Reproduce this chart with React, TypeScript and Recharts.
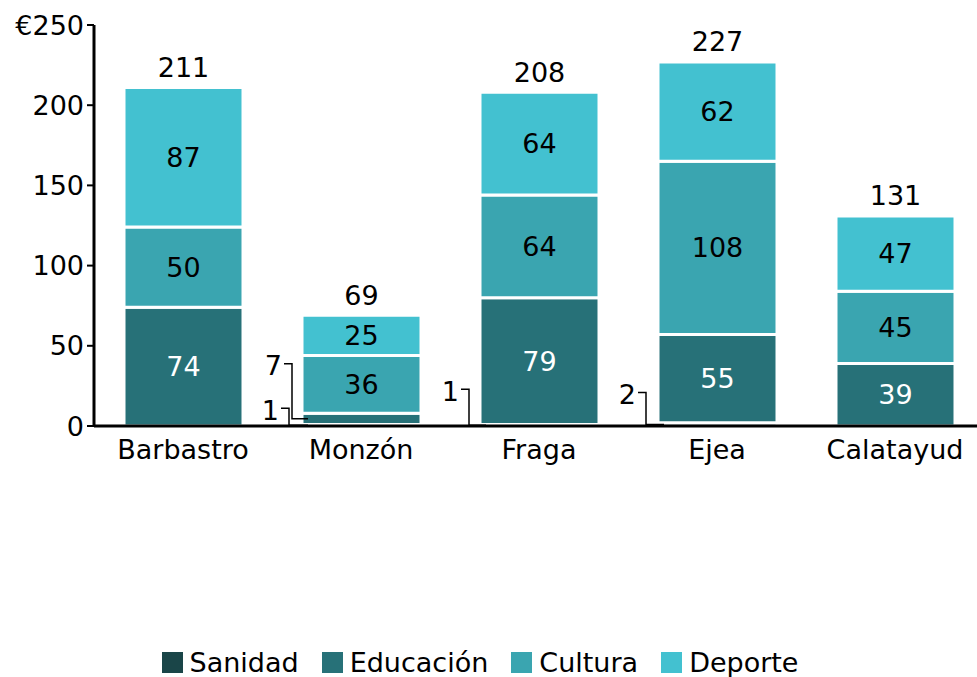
import React from "react";
import { BarChart, Bar, XAxis, YAxis, Legend, LabelList } from "recharts";

const categories = ["Barbastro", "Monzón", "Fraga", "Ejea", "Calatayud"];
const sanidad = [0, 1, 1, 2, 0];
const educacion = [74, 7, 79, 55, 39];
const cultura = [50, 36, 64, 108, 45];
const deporte = [87, 25, 64, 62, 47];
const yTicks = [0, 50, 100, 150, 200, 250];

const seriesNames = ["Sanidad", "Educación", "Cultura", "Deporte"];
const seriesKeys = ["sanidad", "educacion", "cultura", "deporte"];
const seriesColors = ["#1a4548", "#277178", "#3aa5b0", "#43c1d0"];
const labelColors = ["#ffffff", "#ffffff", "#000000", "#000000"];

// label nudges for small segments drawn outside with leader lines (style only)
const leaderNudges: Record<string, { lift: number; elbow: number }> = {
  "educacion-Monzón": { lift: 55, elbow: 10 },
  "sanidad-Monzón": { lift: 17, elbow: 13 },
  "sanidad-Fraga": { lift: 36, elbow: 11 },
  "sanidad-Ejea": { lift: 32, elbow: 12 },
};

const data = categories.map((c, i) => ({
  name: c,
  sanidad: sanidad[i],
  educacion: educacion[i],
  cultura: cultura[i],
  deporte: deporte[i],
  total: sanidad[i] + educacion[i] + cultura[i] + deporte[i],
}));

const FONT = "DejaVu Sans";
const FS = 27;

const makeSegmentLabel = (si: number) => (props: any) => {
  const { x, y, width, height, value } = props;
  if (value == null) return null;
  const [cat, valStr] = String(value).split("|");
  const v = Number(valStr);
  if (!v) return null;
  const key = `${seriesKeys[si]}-${cat}`;
  const nudge = leaderNudges[key];
  if (nudge) {
    const midY = y + height / 2;
    const elbowX = x - nudge.elbow;
    const ly = midY - nudge.lift;
    return (
      <g>
        <polyline
          points={`${elbowX - 8},${ly} ${elbowX},${ly} ${elbowX},${midY} ${x + 6},${midY}`}
          fill="none"
          stroke="#000"
          strokeWidth={1.5}
        />
        <text
          x={elbowX - 10}
          y={ly + 4}
          textAnchor="end"
          dominantBaseline="middle"
          fontFamily={FONT}
          fontSize={FS}
          fill="#000"
        >
          {v}
        </text>
      </g>
    );
  }
  return (
    <text
      x={x + width / 2}
      y={y + height / 2}
      textAnchor="middle"
      dominantBaseline="central"
      fontFamily={FONT}
      fontSize={FS}
      fill={labelColors[si]}
    >
      {v}
    </text>
  );
};

const TotalLabel = (props: any) => {
  const { x, y, width, value } = props;
  return (
    <text
      x={x + width / 2}
      y={y - 20}
      textAnchor="middle"
      dominantBaseline="central"
      fontFamily={FONT}
      fontSize={FS}
      fill="#000"
    >
      {value}
    </text>
  );
};

const LegendContent = () => (
  <div
    style={{
      display: "flex",
      justifyContent: "center",
      alignItems: "center",
      fontFamily: FONT,
      fontSize: FS,
      lineHeight: "27px",
      height: 27,
      color: "#000",
      width: 960,
    }}
  >
    {seriesNames.map((n, i) => (
      <div key={n} style={{ display: "flex", alignItems: "center", marginRight: i < 3 ? 23 : 0 }}>
        <div style={{ width: 21, height: 21, background: seriesColors[i], marginRight: 7 }} />
        <span style={{ whiteSpace: "nowrap" }}>{n}</span>
      </div>
    ))}
  </div>
);

export default function App() {
  return (
    <div
      style={{
        position: "absolute",
        left: 0,
        top: 0,
        width: 977,
        height: 677,
        overflow: "hidden",
        background: "#fff",
      }}
    >
      <BarChart
        width={990}
        height={677}
        data={data}
        margin={{ top: 25, right: 6, left: 0, bottom: 194 }}
        barSize={119}
        style={{ fontFamily: FONT }}
      >
        {seriesKeys.map((k, si) => (
          <Bar
            key={k}
            dataKey={k}
            stackId="a"
            fill={seriesColors[si]}
            stroke="#ffffff"
            strokeWidth={3}
            isAnimationActive={false}
            name={seriesNames[si]}
          >
            <LabelList
              dataKey={(d: any) => `${d.name}|${d[k]}`}
              content={makeSegmentLabel(si)}
            />
            {si === 3 ? <LabelList dataKey="total" content={TotalLabel} /> : null}
          </Bar>
        ))}
        <XAxis
          dataKey="name"
          tickLine={false}
          axisLine={{ stroke: "#000", strokeWidth: 3 }}
          tick={{ fill: "#000", fontSize: FS, fontFamily: FONT }}
          tickMargin={8}
          height={30}
          interval={0}
        />
        <YAxis
          width={94}
          domain={[0, 250]}
          ticks={yTicks}
          tickFormatter={(v: number) => (v === 250 ? "€250" : String(v))}
          axisLine={{ stroke: "#000", strokeWidth: 3 }}
          tickLine={{ stroke: "#000", strokeWidth: 2 }}
          tickSize={7}
          tickMargin={3}
          tick={{ fill: "#000", fontSize: FS, fontFamily: FONT }}
        />
        <Legend
          content={LegendContent}
          wrapperStyle={{ top: 649, left: 0, bottom: "auto", width: 977, height: 27 }}
        />
      </BarChart>
    </div>
  );
}
